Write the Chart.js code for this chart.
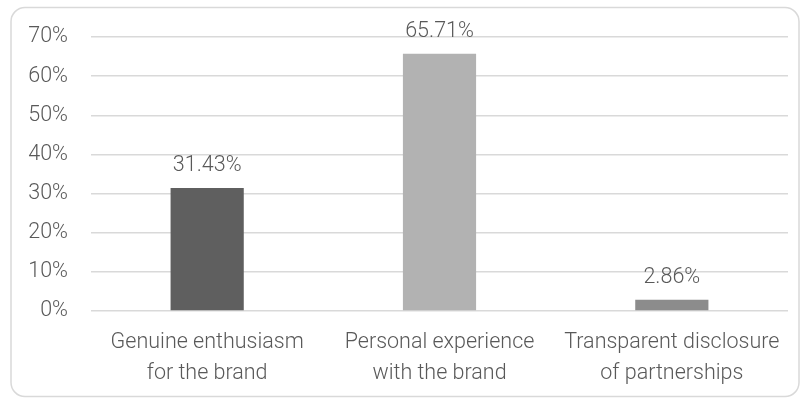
<!DOCTYPE html>
<html>
<head>
<meta charset="utf-8">
<script src="https://cdn.jsdelivr.net/npm/chart.js@4"></script>
<style>
  html, body { margin: 0; padding: 0; background: #ffffff; }
  #wrap { width: 803px; height: 400px; position: relative; }
</style>
</head>
<body>
<div id="wrap"><canvas id="c" width="803" height="400"></canvas></div>
<script>
const categories = [
  ["Genuine enthusiasm", "for the brand"],
  ["Personal experience", "with the brand"],
  ["Transparent disclosure", "of partnerships"]
];
const values = [31.43, 65.71, 2.86];
const barColors = ["#5f5f5f", "#b2b2b2", "#8c8c8c"];
const yTicks = [0, 10, 20, 30, 40, 50, 60, 70];

const FONT = "Roboto, 'Liberation Sans', Arial, sans-serif";
const TEXT = "#595959";
const FSIZE = 21.5;
const FWEIGHT = 300;

const frame = {
  id: 'frame',
  beforeDraw(chart) {
    const ctx = chart.ctx;
    ctx.save();
    ctx.fillStyle = '#ffffff';
    ctx.fillRect(0, 0, chart.width, chart.height);
    ctx.strokeStyle = '#d9d9d9';
    ctx.lineWidth = 1.5;
    ctx.beginPath();
    ctx.roundRect(11, 7.5, 788, 389, 14);
    ctx.stroke();
    ctx.restore();
  }
};

const labels = {
  id: 'valueLabels',
  afterDatasetsDraw(chart) {
    const ctx = chart.ctx;
    const meta = chart.getDatasetMeta(0);
    ctx.save();
    ctx.font = FWEIGHT + " " + FSIZE + "px " + FONT;
    ctx.fillStyle = TEXT;
    ctx.textAlign = 'center';
    ctx.textBaseline = 'alphabetic';
    meta.data.forEach((bar, i) => {
      ctx.fillText(values[i].toFixed(2) + '%', bar.x, bar.y - 17);
    });
    ctx.restore();
  }
};

new Chart(document.getElementById('c'), {
  type: 'bar',
  data: {
    labels: categories,
    datasets: [{
      data: values,
      backgroundColor: barColors,
      borderWidth: 0,
      barPercentage: 0.315,
      categoryPercentage: 1.0
    }]
  },
  options: {
    responsive: false,
    animation: false,
    devicePixelRatio: 1,
    layout: { padding: { left: 0, right: 15, top: 37, bottom: 0 } },
    plugins: { legend: { display: false }, tooltip: { enabled: false } },
    scales: {
      x: {
        grid: { display: false, drawTicks: false },
        border: { display: false },
        ticks: {
          color: TEXT,
          font: { family: FONT, size: FSIZE, weight: FWEIGHT, lineHeight: 1.4 },
          padding: 17,
          maxRotation: 0,
          autoSkip: false
        },
        afterFit(scale) { scale.height = 89; }
      },
      y: {
        min: 0,
        max: 70,
        afterBuildTicks(scale) { scale.ticks = yTicks.map(v => ({ value: v })); },
        grid: { color: '#d9d9d9', lineWidth: 1.5, drawTicks: false },
        border: { display: false },
        ticks: {
          color: TEXT,
          font: { family: FONT, size: FSIZE, weight: FWEIGHT },
          padding: 23,
          callback: v => v + '%'
        },
        afterFit(scale) { scale.width = 91; }
      }
    }
  },
  plugins: [frame, labels]
});
</script>
</body>
</html>
